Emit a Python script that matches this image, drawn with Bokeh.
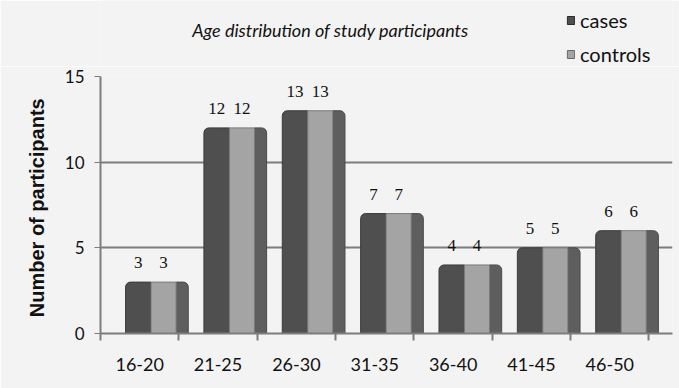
from bokeh.plotting import figure
from bokeh.layouts import column
from bokeh.models import ColumnDataSource, FixedTicker, Range1d, LabelSet, Legend, LegendItem
from bokeh.embed import file_html
from bokeh.resources import INLINE

# Age groups and participant counts
title_text = "Age distribution of study participants"
series_names = ["cases", "controls"]
age_groups = ["16-20", "21-25", "26-30", "31-35", "36-40", "41-45", "46-50"]
cases = [3, 12, 13, 7, 4, 5, 6]
controls = [3, 12, 13, 7, 4, 5, 6]
y_ticks = [0, 5, 10, 15]

BG = "#f3f3f3"
CASE_FILL, CTRL_FILL, SIDE_FILL = "#4f4f4f", "#a4a4a4", "#5e5e5e"
W, HEAD_H, H = 679, 66, 388
BORDER_L, BORDER_R = 100, 7
idx = list(range(len(age_groups)))

# ---- header strip: title and legend ----
# the column aligns both frames, so the header's x range is expressed in page pixels
head = figure(width=W, height=HEAD_H, output_backend="svg", toolbar_location=None,
              x_range=Range1d(BORDER_L, W - BORDER_R), y_range=Range1d(HEAD_H, 0),
              min_border=0, min_border_left=BORDER_L, min_border_right=BORDER_R,
              x_axis_type=None, y_axis_type=None)
head.background_fill_color = BG
head.border_fill_color = BG
head.outline_line_color = None
head.grid.visible = False
head.text(x=[330], y=[29], text=[title_text], text_align="center", text_baseline="middle",
          text_font={"value": "Lato"}, text_font_style="italic", text_font_size="18px",
          text_color="#111111")

# off-screen single-box renderers that only provide the legend swatches
off = dict(left=[-1000], right=[-999], top=[-1000], bottom=[-1001])
sw_case = head.quad(**off, fill_color=CASE_FILL, line_color="#2a2a2a", line_width=1)
sw_ctrl = head.quad(**off, fill_color=CTRL_FILL, line_color="#6a6a6a", line_width=1)
legend = Legend(items=[LegendItem(label=series_names[0], renderers=[sw_case]),
                       LegendItem(label=series_names[1], renderers=[sw_ctrl])],
                location=(566 - BORDER_L, 0), orientation="vertical",
                glyph_width=9, glyph_height=10, label_height=20, spacing=10,
                label_standoff=5, padding=0, margin=0,
                label_text_font="Lato", label_text_font_size="20px",
                label_text_color="#111111", label_text_baseline="middle",
                background_fill_alpha=0, border_line_color=None)
head.add_layout(legend)

# ---- main chart ----
src = ColumnDataSource(dict(
    left=[i + 0.32 for i in idx],
    mid=[i + 0.645 for i in idx],
    right=[i + 0.965 for i in idx],
    side=[i + 1.12 for i in idx],
    cases=cases,
    controls=controls,
    side_top=[max(a, b) for a, b in zip(cases, controls)],
    case_x=[i + 0.4825 for i in idx],
    ctrl_x=[i + 0.805 for i in idx],
    case_txt=[str(v) for v in cases],
    ctrl_txt=[str(v) for v in controls],
))

p = figure(width=W, height=H - HEAD_H, output_backend="svg", toolbar_location=None,
           x_range=Range1d(0, 7.3), y_range=Range1d(0, 15),
           min_border_left=BORDER_L, min_border_right=BORDER_R,
           min_border_top=10, min_border_bottom=55)
p.background_fill_color = BG
p.border_fill_color = BG
p.outline_line_color = None

# Grid lines at 5, 10, 15
p.xgrid.visible = False
p.ygrid.ticker = FixedTicker(ticks=y_ticks)
p.ygrid.grid_line_color = "#7d7d7d"
p.ygrid.grid_line_width = 2

# Pseudo-3D column pairs: front faces for cases/controls plus a darker side face
p.quad(left="right", right="side", bottom=0, top="side_top", source=src,
       fill_color=SIDE_FILL, line_color="#4a4a4a", line_width=1,
       border_radius=(0, 5, 0, 0))
p.quad(left="left", right="mid", bottom=0, top="cases", source=src,
       fill_color=CASE_FILL, line_color="#3a3a3a", line_width=1,
       border_radius=(5, 0, 0, 0))
p.quad(left="mid", right="right", bottom=0, top="controls", source=src,
       fill_color=CTRL_FILL, line_color="#7a7a7a", line_width=1)

# Value labels above each column
for xcol, tcol, ycol in (("case_x", "case_txt", "cases"), ("ctrl_x", "ctrl_txt", "controls")):
    p.add_layout(LabelSet(x=xcol, y=ycol, text=tcol, source=src, y_offset=14,
                          text_align="center", text_baseline="bottom",
                          text_font="Lato", text_font_size="17px", text_color="#111111"))

# Axes
p.yaxis.ticker = FixedTicker(ticks=y_ticks)
p.yaxis.axis_line_color = "#7d7d7d"
p.yaxis.axis_line_width = 2
p.yaxis.major_tick_line_color = "#7d7d7d"
p.yaxis.major_tick_in = 0
p.yaxis.major_tick_out = 6
p.yaxis.minor_tick_line_color = None
p.yaxis.major_label_text_font = "Lato"
p.yaxis.major_label_text_font_size = "17px"
p.yaxis.major_label_text_color = "#111111"
p.yaxis.major_label_standoff = 10
p.yaxis.axis_label = "Number  of participants"
p.yaxis.axis_label_text_font = "Liberation Sans"
p.yaxis.axis_label_text_font_style = "bold"
p.yaxis.axis_label_text_font_size = "20px"
p.yaxis.axis_label_text_color = "#111111"
p.yaxis.axis_label_standoff = 14

p.xaxis.ticker = FixedTicker(ticks=[i + 0.5 for i in idx], minor_ticks=list(range(len(age_groups) + 1)))
p.xaxis.major_label_overrides = {i + 0.5: g for i, g in zip(idx, age_groups)}
p.xaxis.axis_line_color = "#7d7d7d"
p.xaxis.axis_line_width = 2
p.xaxis.major_tick_line_color = None
p.xaxis.minor_tick_line_color = "#7d7d7d"
p.xaxis.minor_tick_line_width = 2
p.xaxis.minor_tick_in = 0
p.xaxis.minor_tick_out = 7
p.xaxis.major_label_text_font = "Lato"
p.xaxis.major_label_text_font_size = "18px"
p.xaxis.major_label_text_color = "#111111"
p.xaxis.major_label_standoff = 17

layout = column(head, p, spacing=0)
open("out.html", "w").write(file_html(layout, INLINE))
